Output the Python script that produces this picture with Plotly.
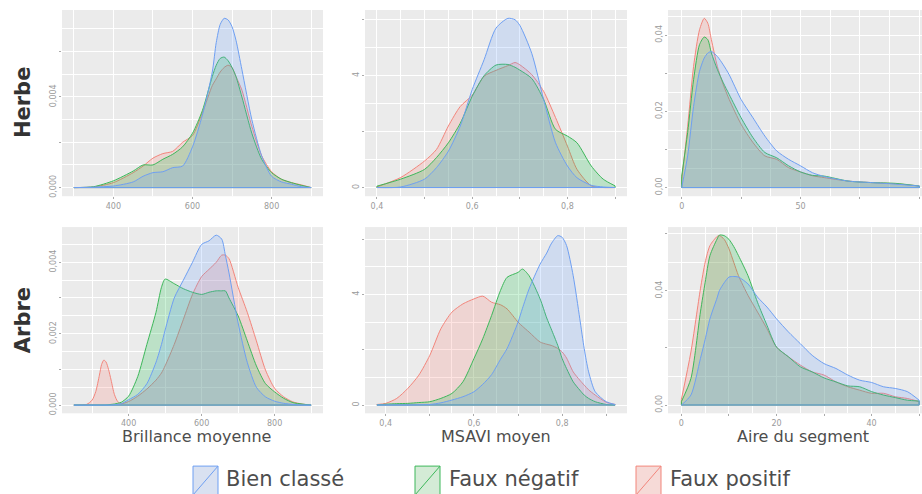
import plotly.graph_objects as go

# ---------------- DATA ----------------
classes = ["Bien classé", "Faux négatif", "Faux positif"]
row_labels = ["Herbe", "Arbre"]
col_titles = ["Brillance moyenne", "MSAVI moyen", "Aire du segment"]

# Herbe - Brillance moyenne
h_brill_x = [300, 350, 400, 450, 475, 500, 525, 550, 575, 600, 625, 650, 660, 670, 680, 690, 700, 710, 725, 750, 775, 800, 825, 850, 875, 900]
h_brill_bien = [0, 0.00002, 0.00007, 0.00025, 0.0005, 0.00066, 0.0007, 0.00088, 0.00095, 0.0018, 0.0032, 0.0051, 0.0064, 0.0072, 0.00747, 0.0074, 0.0071, 0.0065, 0.0052, 0.003, 0.0014, 0.0005, 0.00025, 0.00015, 0.00004, 0]
h_brill_fn = [0, 0.00004, 0.0003, 0.00073, 0.001, 0.001, 0.00125, 0.00147, 0.0018, 0.0024, 0.0034, 0.0049, 0.0054, 0.0057, 0.00576, 0.0056, 0.0053, 0.0049, 0.0040, 0.0024, 0.00125, 0.00066, 0.00037, 0.00022, 0.0001, 0]
h_brill_fp = [0, 0.00003, 0.00022, 0.00066, 0.00095, 0.0013, 0.0015, 0.0016, 0.002, 0.0023, 0.0033, 0.0045, 0.0048, 0.0051, 0.0053, 0.0054, 0.0053, 0.0049, 0.0043, 0.0027, 0.0014, 0.0007, 0.00037, 0.00022, 0.00012, 0]

# Herbe - MSAVI moyen
h_msavi_x = [0.4, 0.45, 0.5, 0.525, 0.55, 0.575, 0.6, 0.625, 0.65, 0.675, 0.69, 0.7, 0.725, 0.75, 0.775, 0.8, 0.82, 0.85, 0.875, 0.9]
h_msavi_bien = [0, 0.02, 0.3, 0.71, 1.3, 2.2, 3.5, 4.57, 5.7, 6.05, 6.0, 5.8, 4.8, 3.15, 1.6, 0.77, 0.35, 0.08, 0.02, 0]
h_msavi_fn = [0.05, 0.3, 0.65, 1.07, 1.6, 2.3, 3.26, 4.0, 4.38, 4.4, 4.3, 4.2, 3.9, 3.15, 2.08, 1.84, 1.6, 0.77, 0.3, 0.06]
h_msavi_fp = [0.02, 0.36, 0.95, 1.36, 2.2, 2.9, 3.3, 3.98, 4.19, 4.36, 4.47, 4.39, 4.04, 3.44, 2.5, 1.48, 0.65, 0.06, 0.0, 0]

# Herbe - Aire du segment
h_aire_x = [0, 2.5, 5, 7.5, 9.5, 11, 12.5, 15, 17.5, 20, 25, 30, 35, 40, 45, 50, 55, 60, 70, 80, 90, 100]
h_aire_bien = [0.0, 0.0083, 0.0213, 0.0305, 0.034, 0.0353, 0.0357, 0.0344, 0.0322, 0.0296, 0.0231, 0.0183, 0.0135, 0.0096, 0.0074, 0.0057, 0.0039, 0.0029, 0.0017, 0.0013, 0.0009, 0.0004]
h_aire_fn = [0.003, 0.0144, 0.0283, 0.0375, 0.0395, 0.0388, 0.0353, 0.031, 0.0275, 0.0244, 0.0183, 0.0131, 0.0092, 0.0078, 0.0057, 0.0041, 0.0032, 0.003, 0.0017, 0.0013, 0.0011, 0.0004]
h_aire_fp = [0.002, 0.016, 0.0318, 0.0414, 0.0444, 0.0431, 0.0388, 0.0318, 0.027, 0.0231, 0.0166, 0.0118, 0.0083, 0.0074, 0.0052, 0.0041, 0.0031, 0.0026, 0.0017, 0.0013, 0.001, 0.0004]

# Arbre - Brillance moyenne
a_brill_x = [250, 285, 300, 310, 320, 326, 332, 338, 345, 352, 361, 370, 380, 400, 425, 450, 475, 490, 500, 525, 550, 575, 600, 620, 640, 655, 665, 675, 700, 725, 750, 775, 800, 825, 850, 875, 900]
a_brill_bien = [0, 0, 0, 0, 0, 0, 0, 0, 0, 0, 0.00001, 0.00002, 0.00004, 0.00015, 0.0003, 0.0006, 0.0012, 0.0017, 0.0021, 0.003, 0.0035, 0.004, 0.0045, 0.0046, 0.00476, 0.00465, 0.0042, 0.0037, 0.0023, 0.0012, 0.0005, 0.00023, 0.00011, 0.00005, 0.00002, 0, 0]
a_brill_fn = [0, 0, 0, 0, 0, 0, 0, 0, 0.00001, 0.00002, 0.00003, 0.00005, 0.00008, 0.00025, 0.0008, 0.0017, 0.0026, 0.0033, 0.00353, 0.0034, 0.00326, 0.00316, 0.0031, 0.00316, 0.0032, 0.0032, 0.0032, 0.003, 0.0025, 0.0018, 0.0011, 0.0006, 0.00037, 0.00019, 0.00007, 0.00003, 0]
a_brill_fp = [0, 0.00002, 0.00014, 0.00038, 0.00084, 0.00114, 0.00126, 0.00121, 0.001, 0.0007, 0.0003, 0.0001, 0.00004, 0.0001, 0.00025, 0.00045, 0.0007, 0.0009, 0.0011, 0.0017, 0.0024, 0.0031, 0.0036, 0.0038, 0.0040, 0.0042, 0.0042, 0.0041, 0.0033, 0.0026, 0.0018, 0.00098, 0.00047, 0.00023, 0.00009, 0.00003, 0]

# Arbre - MSAVI moyen
a_msavi_x = [0.38, 0.4, 0.425, 0.45, 0.475, 0.5, 0.525, 0.55, 0.575, 0.6, 0.62, 0.64, 0.66, 0.675, 0.7, 0.71, 0.725, 0.75, 0.765, 0.775, 0.79, 0.8, 0.81, 0.825, 0.84, 0.85, 0.86, 0.875, 0.9, 0.92]
a_msavi_bien = [0, 0, 0, 0, 0.01, 0.02, 0.08, 0.18, 0.3, 0.48, 0.75, 1.1, 1.65, 2.04, 3.0, 3.5, 4.2, 5.1, 5.5, 5.83, 6.13, 6.07, 5.77, 4.68, 3.12, 2.04, 1.2, 0.48, 0.12, 0.02]
a_msavi_fn = [0, 0.03, 0.05, 0.06, 0.09, 0.12, 0.24, 0.42, 0.84, 1.68, 2.4, 3.24, 4.14, 4.62, 4.8, 4.92, 4.68, 3.84, 3.15, 2.76, 2.16, 1.68, 1.32, 0.84, 0.54, 0.36, 0.24, 0.12, 0.02, 0]
a_msavi_fp = [0.02, 0.06, 0.24, 0.6, 1.08, 1.8, 2.76, 3.36, 3.66, 3.84, 3.94, 3.72, 3.63, 3.48, 3.0, 2.85, 2.64, 2.28, 2.2, 2.16, 2.05, 1.92, 1.7, 1.2, 0.9, 0.72, 0.55, 0.36, 0.1, 0.02]

# Arbre - Aire du segment
a_aire_x = [0, 2, 4, 5, 6, 7.5, 8, 9, 10, 11, 12, 14, 16, 18, 20, 22.5, 25, 27.5, 30, 32.5, 35, 37.5, 40, 42.5, 45, 47.5, 50]
a_aire_bien = [0, 0.0035, 0.0163, 0.023, 0.0302, 0.0375, 0.0401, 0.0428, 0.0448, 0.045, 0.0448, 0.0424, 0.0378, 0.0343, 0.0302, 0.0256, 0.0215, 0.0174, 0.0145, 0.0128, 0.0105, 0.0087, 0.0079, 0.0064, 0.0058, 0.0047, 0.0017]
a_aire_fn = [0.0012, 0.0093, 0.0326, 0.043, 0.0523, 0.0581, 0.0595, 0.0593, 0.058, 0.0555, 0.0523, 0.0453, 0.036, 0.0279, 0.0203, 0.0169, 0.0134, 0.0116, 0.0095, 0.0081, 0.0067, 0.0064, 0.0047, 0.0035, 0.0026, 0.0017, 0.0014]
a_aire_fp = [0.002, 0.0186, 0.0407, 0.05, 0.0558, 0.059, 0.0593, 0.058, 0.0547, 0.050, 0.0453, 0.0384, 0.0326, 0.0267, 0.0203, 0.0169, 0.014, 0.0116, 0.0105, 0.0081, 0.0064, 0.0052, 0.0041, 0.0041, 0.0029, 0.0023, 0.0012]

# Tick values / labels
brill_xticks = [400, 600, 800]
brill_xlabels = ["400", "600", "800"]
brill_xminor = [300, 500, 700, 900]
msavi_xticks = [0.4, 0.5, 0.6, 0.7, 0.8, 0.9]
msavi_xlabels = ["0,4", "", "0,6", "", "0,8", ""]
msavi_xminor = [0.45, 0.55, 0.65, 0.75, 0.85]
h_aire_xticks = [0, 25, 50, 75, 100]
h_aire_xlabels = ["0", "", "50", "", "100"]
h_aire_xminor = [12.5, 37.5, 62.5, 87.5]
a_aire_xticks = [0, 10, 20, 30, 40, 50]
a_aire_xlabels = ["0", "", "20", "", "40", ""]
a_aire_xminor = [5, 15, 25, 35, 45]

h_brill_yticks = [0, 0.002, 0.004, 0.006]
h_brill_ylabels = ["0,000", "", "0,004", ""]
h_brill_yminor = [0.001, 0.003, 0.005, 0.007]
msavi_yticks = [0, 2, 4, 6]
msavi_ylabels = ["0", "", "4", ""]
msavi_yminor = [1, 3, 5]
h_aire_yticks = [0, 0.01, 0.02, 0.03, 0.04]
h_aire_ylabels = ["0,00", "", "0,02", "", "0,04"]
h_aire_yminor = [0.005, 0.015, 0.025, 0.035, 0.045]
a_brill_yticks = [0, 0.001, 0.002, 0.003, 0.004]
a_brill_ylabels = ["0,000", "", "0,002", "", "0,004"]
a_brill_yminor = [0.0005, 0.0015, 0.0025, 0.0035, 0.0045]
a_aire_yticks = [0, 0.02, 0.04, 0.06]
a_aire_ylabels = ["0,00", "", "0,04", ""]
a_aire_yminor = [0.01, 0.03, 0.05]

# ---------------- STYLE ----------------
W, H = 922, 494
line_colors = {"Bien classé": "#6E9FF2", "Faux négatif": "#3DB75A", "Faux positif": "#F2857B"}
fill_colors = {"Bien classé": "rgba(97,156,255,0.2)", "Faux négatif": "rgba(0,186,56,0.2)", "Faux positif": "rgba(248,118,109,0.2)"}
swatch_fill = {"Bien classé": "#D9E1F1", "Faux négatif": "#D4EBD6", "Faux positif": "#F6DAD7"}
FONT = "DejaVu Sans"


def px_x(v):
    return v / W


def px_y(v):
    return 1 - v / H


col_dom = [(62, 323), (365, 627), (668, 922)]
row_dom = [(10, 197), (228, 415)]

panels = [
    (0, 0, h_brill_x, (h_brill_bien, h_brill_fn, h_brill_fp), [270, 930], [-0.00038, 0.00784],
     brill_xticks, brill_xlabels, brill_xminor, h_brill_yticks, h_brill_ylabels, h_brill_yminor),
    (0, 1, h_msavi_x, (h_msavi_bien, h_msavi_fn, h_msavi_fp), [0.375, 0.925], [-0.31, 6.35],
     msavi_xticks, msavi_xlabels, msavi_xminor, msavi_yticks, msavi_ylabels, msavi_yminor),
    (0, 2, h_aire_x, (h_aire_bien, h_aire_fn, h_aire_fp), [-5.76, 101.1], [-0.00227, 0.0466],
     h_aire_xticks, h_aire_xlabels, h_aire_xminor, h_aire_yticks, h_aire_ylabels, h_aire_yminor),
    (1, 0, a_brill_x, (a_brill_bien, a_brill_fn, a_brill_fp), [217.5, 932.5], [-0.00023, 0.004986],
     brill_xticks, brill_xlabels, brill_xminor, a_brill_yticks, a_brill_ylabels, a_brill_yminor),
    (1, 1, a_msavi_x, (a_msavi_bien, a_msavi_fn, a_msavi_fp), [0.353, 0.947], [-0.30, 6.44],
     msavi_xticks, msavi_xlabels, msavi_xminor, msavi_yticks, msavi_ylabels, msavi_yminor),
    (1, 2, a_aire_x, (a_aire_bien, a_aire_fn, a_aire_fp), [-2.82, 50.6], [-0.0029, 0.0623],
     a_aire_xticks, a_aire_xlabels, a_aire_xminor, a_aire_yticks, a_aire_ylabels, a_aire_yminor),
]

fig = go.Figure()
layout = {}

draw_order = [2, 1, 0]  # Faux positif, Faux négatif, Bien classé (on top)
for i, (r, c, xs, series, xr, yr, xt, xl, xm, yt, yl, ym) in enumerate(panels):
    n = i + 1
    xa = "x" if n == 1 else f"x{n}"
    ya = "y" if n == 1 else f"y{n}"
    for k in draw_order:
        name = classes[k]
        ys = series[k]
        fig.add_trace(go.Scatter(
            x=xs, y=ys, mode="lines", fill="tozeroy",
            fillcolor=fill_colors[name],
            line=dict(color=line_colors[name], width=1, shape="spline", smoothing=0.7),
            name=name, showlegend=False, hoverinfo="skip",
            xaxis=xa, yaxis=ya,
        ))
        fig.add_trace(go.Scatter(
            x=[xs[0], xs[0], xs[-1], xs[-1]], y=[ys[0], 0, 0, ys[-1]], mode="lines",
            line=dict(color=line_colors[name], width=1),
            showlegend=False, hoverinfo="skip", xaxis=xa, yaxis=ya,
        ))
    tickfont = dict(family=FONT, size=8, color="#9a9a9a")
    layout["xaxis" if n == 1 else f"xaxis{n}"] = dict(
        domain=[px_x(col_dom[c][0]), px_x(col_dom[c][1])], range=xr, anchor=ya,
        tickmode="array", tickvals=xt, ticktext=xl, ticks="outside", ticklen=2,
        tickcolor="#aaaaaa", tickfont=tickfont, showgrid=True, gridcolor="white",
        gridwidth=1.1, zeroline=False, showline=False, fixedrange=True,
        minor=dict(tickmode="array", tickvals=xm, showgrid=True, gridcolor="white", gridwidth=0.5, ticks=""),
    )
    layout["yaxis" if n == 1 else f"yaxis{n}"] = dict(
        domain=[px_y(row_dom[r][1]), px_y(row_dom[r][0])], range=yr, anchor=xa,
        tickmode="array", tickvals=yt, ticktext=yl, ticks="outside", ticklen=2,
        tickcolor="#aaaaaa", tickfont=tickfont, tickangle=-90, showgrid=True, gridcolor="white",
        gridwidth=1.1, zeroline=False, showline=False, fixedrange=True,
        minor=dict(tickmode="array", tickvals=ym, showgrid=True, gridcolor="white", gridwidth=0.5, ticks=""),
    )

annotations = []
for r, lab in enumerate(row_labels):
    cy = (row_dom[r][0] + row_dom[r][1]) / 2
    annotations.append(dict(text=f"<b>{lab}</b>", x=px_x(23), y=px_y(cy), xref="paper", yref="paper",
                            textangle=-90, showarrow=False, xanchor="center", yanchor="middle",
                            font=dict(family=FONT, size=21, color="#333333")))
title_cx = [196, 496, 803]
for c, t in enumerate(col_titles):
    annotations.append(dict(text=t, x=px_x(title_cx[c]), y=px_y(438), xref="paper", yref="paper",
                            showarrow=False, xanchor="center", yanchor="middle",
                            font=dict(family=FONT, size=16, color="#4d4d4d")))

shapes = []
legend_key_x = [193, 415, 636]
legend_text_x = [224, 447, 668]
for k, name in enumerate(classes):
    x0, x1 = legend_key_x[k], legend_key_x[k] + 25
    y_top, y_bot = 468, 497
    shapes.append(dict(type="rect", xref="paper", yref="paper",
                       x0=px_x(x0), x1=px_x(x1), y0=px_y(y_bot), y1=px_y(y_top),
                       fillcolor=swatch_fill[name], line=dict(color=line_colors[name], width=1)))
    shapes.append(dict(type="line", xref="paper", yref="paper",
                       x0=px_x(x0), x1=px_x(x1), y0=px_y(y_bot), y1=px_y(y_top),
                       line=dict(color=line_colors[name], width=1)))
    annotations.append(dict(text=name, x=px_x(legend_text_x[k]), y=px_y(481), xref="paper", yref="paper",
                            showarrow=False, xanchor="left", yanchor="middle",
                            font=dict(family=FONT, size=21, color="#4d4d4d")))

fig.update_layout(
    width=W, height=H, margin=dict(l=0, r=0, t=0, b=0),
    paper_bgcolor="white", plot_bgcolor="#EBEBEB",
    showlegend=False, annotations=annotations, shapes=shapes,
    font=dict(family=FONT),
    **layout,
)

fig.write_html("out.html", config={"displayModeBar": False},
               post_script="document.body.style.margin='0';document.body.style.overflow='hidden';")
